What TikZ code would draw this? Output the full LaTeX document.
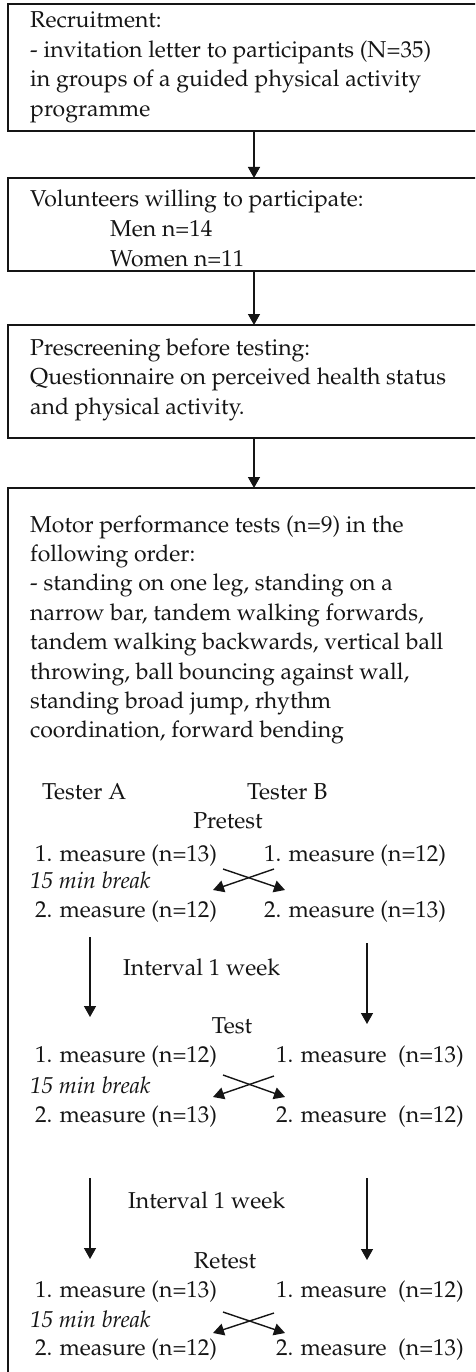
\documentclass[tikz,border=0pt]{standalone}
\usepackage[T1]{fontenc}
\usepackage{mathpazo}
\usetikzlibrary{arrows.meta}
\newcommand\myfs{\fontsize{23}{29.5}\selectfont}
\definecolor{ink}{HTML}{151515}
\tikzset{
  box/.style={draw=ink, line width=2pt, minimum width=492pt, anchor=north west, inner sep=0pt, outer sep=0pt},
  txt/.style={anchor=base west, inner sep=0pt, font=\myfs, text=ink},
  ctxt/.style={anchor=base, inner sep=0pt, font=\myfs, text=ink},
  itxt/.style={anchor=base west, inner sep=0pt, font=\myfs\itshape, text=ink},
  arr/.style={draw=ink, line width=1.4pt, -{Triangle[width=12pt,length=11pt]}},
}
\begin{document}
\begin{tikzpicture}[x=1pt,y=-1pt]
\useasboundingbox (0,0) rectangle (475,1372);
\clip (0,0) rectangle (475,1372);
% boxes
\node[box, minimum height=127pt] (b1) at (8,4) {};
\node[box, minimum height=93pt] (b2) at (8,178) {};
\node[box, minimum height=113pt] (b3) at (8,325) {};
\node[box, minimum height=1000pt] (b4) at (8,488) {};
\draw[arr] (b1.south) -- (b2.north);
\draw[arr] (b2.south) -- (b3.north);
\draw[arr] (b3.south) -- (b4.north);
% box 1
\node[txt] (t11) at (30,28) {Recruitment:};
\node[txt] (t12) at (30,57.5) {- invitation letter to participants (N=35)};
\node[txt] (t13) at (30,87) {in groups of a guided physical activity};
\node[txt] (t14) at (30,117) {programme};
% box 2
\node[txt] (t21) at (30,207) {Volunteers willing to participate:};
\node[txt] (t22) at (110,236.5) {Men n=14};
\node[txt] (t23) at (110,266) {Women n=11};
% box 3
\node[txt] (t31) at (30,355) {Prescreening before testing:};
\node[txt] (t32) at (30,384.5) {Questionnaire on perceived health status};
\node[txt] (t33) at (30,414) {and physical activity.};
% box 4
\node[txt] (t41) at (30,532) {Motor performance tests (n=9) in the};
\node[txt] (t42) at (30,561.4) {following order:};
\node[txt] (t43) at (30,590.8) {- standing on one leg, standing on a};
\node[txt] (t44) at (30,620.2) {narrow bar, tandem walking forwards,};
\node[txt] (t45) at (30,649.6) {tandem walking backwards, vertical ball};
\node[txt] (t46) at (30,679) {throwing, ball bouncing against wall,};
\node[txt] (t47) at (30,708.4) {standing broad jump, rhythm};
\node[txt] (t48) at (30,737.8) {coordination, forward bending};
\node[txt] (ta) at (42,799) {Tester A};
\node[txt] (tb) at (247,799) {Tester B};
% pretest
\node[ctxt] (pre) at (228,828) {Pretest};
\node[txt] (p1a) at (35,861) {1. measure (n=13)};
\node[txt] (p1b) at (264,861) {1. measure (n=12)};
\node[itxt] (pbr) at (30,888) {15 min break};
\node[txt] (p2a) at (35,917) {2. measure (n=12)};
\node[txt] (p2b) at (264,917) {2. measure (n=13)};
\coordinate (px1) at (223,869); \coordinate (px2) at (285,890);
\coordinate (px3) at (274,869); \coordinate (px4) at (213,890);
\draw[arr] (px1) -- (px2);
\draw[arr] (px3) -- (px4);
\coordinate (d1a) at (90,937); \coordinate (d1b) at (90,1017);
\coordinate (d2a) at (367,943); \coordinate (d2b) at (367,1024);
\draw[arr] (d1a) -- (d1b);
\draw[arr] (d2a) -- (d2b);
\node[txt] (int1) at (123,975) {Interval 1 week};
% test
\node[ctxt] (tst) at (232,1033) {Test};
\node[txt] (q1a) at (35,1062) {1. measure (n=12)};
\node[txt] (q1b) at (276,1062) {1. measure\ \ (n=13)};
\node[itxt] (qbr) at (30,1093) {15 min break};
\node[txt] (q2a) at (35,1122) {2. measure (n=13)};
\node[txt] (q2b) at (276,1122) {2. measure\ \ (n=12)};
\coordinate (qx1) at (223,1075); \coordinate (qx2) at (285,1097);
\coordinate (qx3) at (274,1076); \coordinate (qx4) at (213,1097);
\draw[arr] (qx1) -- (qx2);
\draw[arr] (qx3) -- (qx4);
\coordinate (e1a) at (90,1178); \coordinate (e1b) at (90,1259);
\coordinate (e2a) at (367,1178); \coordinate (e2b) at (367,1260);
\draw[arr] (e1a) -- (e1b);
\draw[arr] (e2a) -- (e2b);
\node[txt] (int2) at (128,1208) {Interval 1 week};
% retest
\node[ctxt] (rt) at (225,1268) {Retest};
\node[txt] (r1a) at (35,1297) {1. measure (n=13)};
\node[txt] (r1b) at (276,1297) {1. measure\ \ (n=12)};
\node[itxt] (rbr) at (30,1327) {15 min break};
\node[txt] (r2a) at (35,1355) {2. measure (n=12)};
\node[txt] (r2b) at (276,1355) {2. measure\ \ (n=13)};
\coordinate (rx1) at (223,1312); \coordinate (rx2) at (285,1333);
\coordinate (rx3) at (274,1313); \coordinate (rx4) at (213,1333);
\draw[arr] (rx1) -- (rx2);
\draw[arr] (rx3) -- (rx4);
\end{tikzpicture}
\end{document}
